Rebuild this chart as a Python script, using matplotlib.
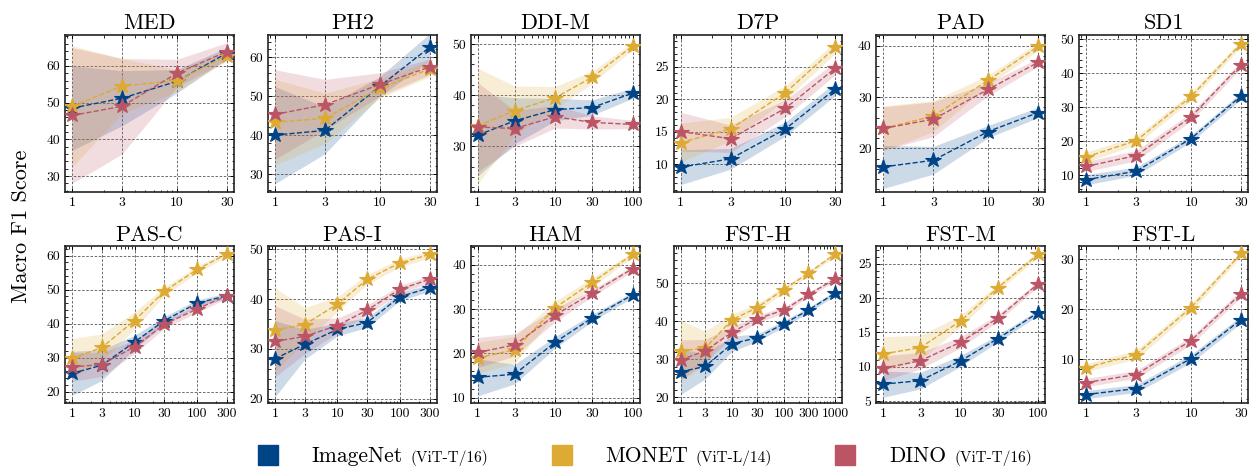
import matplotlib

matplotlib.use("Agg")

import matplotlib.pyplot as plt
from matplotlib.lines import Line2D
from matplotlib.ticker import AutoMinorLocator


# ---- data: mean and std of macro F1 per dataset / backbone ----
MODELS = ["ImageNet", "MONET", "DINO"]
MODEL_ARCH = ["(ViT-T/16)", "(ViT-L/14)", "(ViT-T/16)"]
COLORS = ["#004488", "#DDAA33", "#BB5566"]

MED_SHOTS = [1, 3, 10, 30]
MED_IMAGENET = [48.5, 51.2, 55.8, 63.5]
MED_IMAGENET_SD = [11.5, 7.5, 3.2, 1.5]
MED_MONET = [49.0, 54.5, 56.0, 62.7]
MED_MONET_SD = [16.5, 7.5, 3.0, 1.3]
MED_DINO = [46.5, 49.0, 58.0, 63.9]
MED_DINO_SD = [18.5, 13.0, 3.8, 2.4]

PH2_SHOTS = [1, 3, 10, 30]
PH2_IMAGENET = [40.0, 41.2, 52.5, 62.6]
PH2_IMAGENET_SD = [12.5, 6.0, 2.5, 3.5]
PH2_MONET = [43.3, 44.3, 52.0, 57.0]
PH2_MONET_SD = [11.0, 6.5, 2.5, 2.0]
PH2_DINO = [45.3, 47.8, 53.0, 57.5]
PH2_DINO_SD = [11.5, 6.5, 3.0, 2.0]

DDIM_SHOTS = [1, 3, 10, 30, 100]
DDIM_IMAGENET = [32.2, 35.0, 37.2, 37.6, 40.4]
DDIM_IMAGENET_SD = [8.0, 4.5, 2.2, 1.5, 1.0]
DDIM_MONET = [34.0, 37.0, 39.5, 43.5, 49.6]
DDIM_MONET_SD = [11.3, 4.8, 2.2, 1.2, 0.7]
DDIM_DINO = [33.8, 33.5, 35.8, 34.7, 34.3]
DDIM_DINO_SD = [8.7, 3.5, 2.2, 1.3, 0.8]

D7P_SHOTS = [1, 3, 10, 30]
D7P_IMAGENET = [9.5, 10.8, 15.4, 21.6]
D7P_IMAGENET_SD = [2.7, 1.6, 1.1, 1.0]
D7P_MONET = [13.3, 15.4, 21.0, 28.0]
D7P_MONET_SD = [3.0, 1.8, 1.1, 0.9]
D7P_DINO = [15.0, 13.9, 18.6, 24.8]
D7P_DINO_SD = [3.0, 2.1, 1.3, 1.0]

PAD_SHOTS = [1, 3, 10, 30]
PAD_IMAGENET = [16.4, 17.7, 23.3, 27.0]
PAD_IMAGENET_SD = [4.2, 2.7, 1.2, 1.0]
PAD_MONET = [23.9, 26.3, 33.3, 39.9]
PAD_MONET_SD = [4.4, 3.0, 1.0, 0.8]
PAD_DINO = [23.9, 25.7, 31.5, 36.8]
PAD_DINO_SD = [4.2, 3.4, 1.2, 0.8]

SD1_SHOTS = [1, 3, 10, 30]
SD1_IMAGENET = [8.7, 11.2, 20.8, 33.4]
SD1_IMAGENET_SD = [1.5, 1.2, 1.0, 1.0]
SD1_MONET = [15.4, 20.2, 33.2, 48.8]
SD1_MONET_SD = [1.5, 1.2, 1.2, 0.9]
SD1_DINO = [12.6, 15.8, 27.2, 42.6]
SD1_DINO_SD = [1.5, 1.5, 1.2, 1.0]

PASC_SHOTS = [1, 3, 10, 30, 100, 300]
PASC_IMAGENET = [25.4, 27.8, 34.6, 40.9, 46.0, 48.2]
PASC_IMAGENET_SD = [6.5, 4.5, 2.0, 1.2, 1.0, 0.8]
PASC_MONET = [29.8, 33.0, 40.9, 49.5, 55.9, 60.5]
PASC_MONET_SD = [5.8, 4.0, 2.5, 1.2, 1.0, 0.8]
PASC_DINO = [27.3, 28.0, 33.2, 39.8, 44.3, 48.2]
PASC_DINO_SD = [4.2, 3.5, 2.0, 1.2, 1.0, 0.8]

PASI_SHOTS = [1, 3, 10, 30, 100, 300]
PASI_IMAGENET = [28.0, 30.9, 33.9, 35.3, 40.5, 42.3]
PASI_IMAGENET_SD = [7.7, 3.0, 1.3, 1.0, 0.8, 0.7]
PASI_MONET = [33.8, 34.9, 39.0, 44.0, 47.3, 49.0]
PASI_MONET_SD = [8.5, 3.4, 1.5, 1.0, 0.8, 0.7]
PASI_DINO = [31.5, 32.5, 34.7, 37.8, 42.0, 44.0]
PASI_DINO_SD = [7.2, 3.5, 1.5, 1.0, 0.8, 0.7]

HAM_SHOTS = [1, 3, 10, 30, 100]
HAM_IMAGENET = [14.6, 15.3, 22.5, 28.0, 33.2]
HAM_IMAGENET_SD = [4.2, 2.2, 1.3, 0.8, 0.6]
HAM_MONET = [19.0, 20.8, 30.3, 36.0, 42.3]
HAM_MONET_SD = [3.5, 3.0, 1.5, 1.0, 0.6]
HAM_DINO = [20.2, 21.9, 28.6, 33.6, 39.1]
HAM_DINO_SD = [3.4, 2.5, 1.5, 0.8, 0.6]

FSTH_SHOTS = [1, 3, 10, 30, 100, 300, 1000]
FSTH_IMAGENET = [26.7, 28.1, 34.1, 35.6, 39.3, 42.9, 47.4]
FSTH_IMAGENET_SD = [6.0, 3.3, 2.0, 1.0, 0.8, 0.7, 0.6]
FSTH_MONET = [32.2, 32.9, 40.4, 43.5, 48.3, 52.6, 57.7]
FSTH_MONET_SD = [8.0, 4.5, 1.5, 1.0, 0.8, 0.6, 0.6]
FSTH_DINO = [29.8, 32.2, 37.1, 40.6, 42.9, 47.0, 51.1]
FSTH_DINO_SD = [5.3, 3.0, 1.5, 1.0, 0.8, 0.6, 0.6]

FSTM_SHOTS = [1, 3, 10, 30, 100]
FSTM_IMAGENET = [7.5, 8.0, 10.9, 14.1, 17.9]
FSTM_IMAGENET_SD = [1.9, 1.2, 0.8, 0.5, 0.4]
FSTM_MONET = [11.9, 12.8, 16.7, 21.5, 26.4]
FSTM_MONET_SD = [2.5, 1.8, 0.8, 0.5, 0.4]
FSTM_DINO = [9.8, 10.9, 13.6, 17.1, 22.1]
FSTM_DINO_SD = [1.8, 1.2, 0.8, 0.5, 0.4]

FSTL_SHOTS = [1, 3, 10, 30]
FSTL_IMAGENET = [2.9, 4.1, 10.1, 17.9]
FSTL_IMAGENET_SD = [0.8, 0.8, 0.8, 0.7]
FSTL_MONET = [8.3, 10.9, 20.3, 31.1]
FSTL_MONET_SD = [0.8, 0.9, 0.8, 0.6]
FSTL_DINO = [5.3, 6.9, 13.7, 23.1]
FSTL_DINO_SD = [0.8, 0.8, 0.8, 0.7]

XTICKS = [1, 3, 10, 30, 100, 300, 1000]

PANELS = [
    ("MED", MED_SHOTS, [MED_IMAGENET, MED_MONET, MED_DINO],
     [MED_IMAGENET_SD, MED_MONET_SD, MED_DINO_SD]),
    ("PH2", PH2_SHOTS, [PH2_IMAGENET, PH2_MONET, PH2_DINO],
     [PH2_IMAGENET_SD, PH2_MONET_SD, PH2_DINO_SD]),
    ("DDI-M", DDIM_SHOTS, [DDIM_IMAGENET, DDIM_MONET, DDIM_DINO],
     [DDIM_IMAGENET_SD, DDIM_MONET_SD, DDIM_DINO_SD]),
    ("D7P", D7P_SHOTS, [D7P_IMAGENET, D7P_MONET, D7P_DINO],
     [D7P_IMAGENET_SD, D7P_MONET_SD, D7P_DINO_SD]),
    ("PAD", PAD_SHOTS, [PAD_IMAGENET, PAD_MONET, PAD_DINO],
     [PAD_IMAGENET_SD, PAD_MONET_SD, PAD_DINO_SD]),
    ("SD1", SD1_SHOTS, [SD1_IMAGENET, SD1_MONET, SD1_DINO],
     [SD1_IMAGENET_SD, SD1_MONET_SD, SD1_DINO_SD]),
    ("PAS-C", PASC_SHOTS, [PASC_IMAGENET, PASC_MONET, PASC_DINO],
     [PASC_IMAGENET_SD, PASC_MONET_SD, PASC_DINO_SD]),
    ("PAS-I", PASI_SHOTS, [PASI_IMAGENET, PASI_MONET, PASI_DINO],
     [PASI_IMAGENET_SD, PASI_MONET_SD, PASI_DINO_SD]),
    ("HAM", HAM_SHOTS, [HAM_IMAGENET, HAM_MONET, HAM_DINO],
     [HAM_IMAGENET_SD, HAM_MONET_SD, HAM_DINO_SD]),
    ("FST-H", FSTH_SHOTS, [FSTH_IMAGENET, FSTH_MONET, FSTH_DINO],
     [FSTH_IMAGENET_SD, FSTH_MONET_SD, FSTH_DINO_SD]),
    ("FST-M", FSTM_SHOTS, [FSTM_IMAGENET, FSTM_MONET, FSTM_DINO],
     [FSTM_IMAGENET_SD, FSTM_MONET_SD, FSTM_DINO_SD]),
    ("FST-L", FSTL_SHOTS, [FSTL_IMAGENET, FSTL_MONET, FSTL_DINO],
     [FSTL_IMAGENET_SD, FSTL_MONET_SD, FSTL_DINO_SD]),
]

# axis ranges / ticks per panel (layout, not data)
YLIMS = [
    (25.8, 68.4), (25.5, 65.7), (21.2, 51.75), (5.75, 29.9), (11.6, 42.1), (5.2, 51.3),
    (16.7, 62.65), (19.1, 50.6), (8.8, 44.1), (18.5, 59.6), (4.75, 27.5), (1.2, 32.5),
]
YTICKS = [
    [30, 40, 50, 60], [30, 40, 50, 60], [30, 40, 50], [10, 15, 20, 25],
    [20, 30, 40], [10, 20, 30, 40, 50],
    [20, 30, 40, 50, 60], [20, 30, 40, 50], [10, 20, 30, 40], [20, 30, 40, 50],
    [5, 10, 15, 20, 25], [10, 20, 30],
]


plt.rcParams.update({
    "font.family": "cmr10",
    "mathtext.fontset": "cm",
    "axes.formatter.use_mathtext": True,
    "axes.unicode_minus": False,
    "axes.linewidth": 1.2,
    "axes.edgecolor": "#222222",
    "xtick.direction": "in",
    "ytick.direction": "in",
    "xtick.top": True,
    "ytick.right": True,
    "xtick.major.size": 3.2,
    "ytick.major.size": 3.2,
    "xtick.minor.size": 1.8,
    "ytick.minor.size": 1.8,
    "xtick.major.width": 0.7,
    "ytick.major.width": 0.7,
    "xtick.minor.width": 0.6,
    "ytick.minor.width": 0.6,
    "xtick.minor.visible": True,
    "ytick.minor.visible": True,
    "xtick.labelsize": 9.8,
    "ytick.labelsize": 9.8,
})

fig, axes = plt.subplots(2, 6, figsize=(12.5, 4.67), dpi=100)
fig.subplots_adjust(left=0.052, right=0.9985, top=0.925, bottom=0.137,
                    wspace=0.201, hspace=0.351)

for ax, (title, shots, means, sds), ylim, yticks in zip(
        axes.flat, PANELS, YLIMS, YTICKS):
    for mean, sd, color, z in zip(means, sds, COLORS, [3, 4, 5]):
        low = [m - s for m, s in zip(mean, sd)]
        high = [m + s for m, s in zip(mean, sd)]
        ax.fill_between(shots, low, high, color=color, alpha=0.2,
                        linewidth=0, zorder=1)
        ax.plot(shots, mean, ls="--", lw=1.0, color=color, marker="*",
                markersize=11.5, markeredgewidth=0.8, zorder=z)

    ax.set_xscale("log")
    ax.margins(x=0.045)
    ticks = [t for t in XTICKS if t <= max(shots)]
    ax.set_xticks(ticks, [str(t) for t in ticks])
    ax.set_yticks(yticks, [str(t) for t in yticks])
    ax.yaxis.set_minor_locator(AutoMinorLocator())
    ax.set_ylim(*ylim)
    ax.grid(True, which="major", ls=(0, (3, 2)), lw=0.6, color="#555555")
    ax.set_axisbelow(True)
    ax.set_title(title, fontsize=16, pad=4)

fig.text(0.017, 0.515, "Macro F1 Score", rotation=90, fontsize=16,
         ha="center", va="center")

# legend drawn by hand so the backbone name can be set smaller
square_x = [0.2144, 0.4496, 0.676]
label_x = [0.249, 0.484, 0.7112]
base_y = 0.011
fig.canvas.draw()
renderer = fig.canvas.get_renderer()
for sx, lx, name, arch, color in zip(square_x, label_x, MODELS, MODEL_ARCH, COLORS):
    fig.add_artist(Line2D([sx], [0.026], marker="s", markersize=14.5,
                          color=color, linestyle="none",
                          transform=fig.transFigure))
    t = fig.text(lx, base_y, name, fontsize=15.5, va="baseline", ha="left")
    bb = t.get_window_extent(renderer)
    fig.text((bb.x1 + 8) / fig.bbox.width, base_y, arch, fontsize=11,
             va="baseline", ha="left")

fig.savefig("out.png", dpi=100)
